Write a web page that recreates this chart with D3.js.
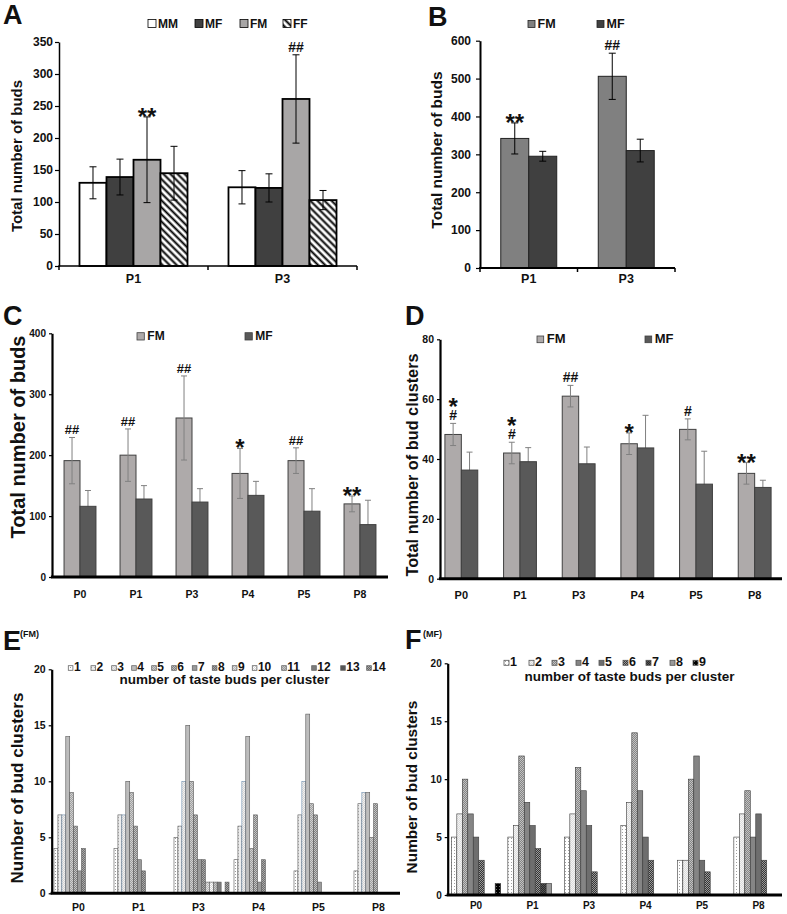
<!DOCTYPE html>
<html>
<head>
<meta charset="utf-8">
<script src="https://cdn.jsdelivr.net/npm/d3@7"></script>
<style>
  body { margin: 0; background: #fff; }
  text { font-family: Arial, "Liberation Sans", sans-serif; font-weight: bold; fill: #111; }
</style>
</head>
<body>
<script>
// ---- data ----
// A
var catsA = ['P1', 'P3'];
var seriesA = ['MM', 'MF', 'FM', 'FF'];
var aMM = [130, 123], aMMErr = [25, 26];
var aMF = [139, 122], aMFErr = [28, 22];
var aFM = [166, 261], aFMErr = [67, 69];
var aFF = [145, 103], aFFErr = [42, 15];
var aStar = ['**', ''], aHash = ['', '##'];
// B
var catsB = ['P1', 'P3'];
var seriesB = ['FM', 'MF'];
var bFM = [342, 506], bFMErr = [41, 61];
var bMF = [295, 310], bMFErr = [13, 30];
var bStar = ['**', ''], bHash = ['', '##'];
// C
var catsC = ['P0', 'P1', 'P3', 'P4', 'P5', 'P8'];
var cFM = [191, 200, 261, 170, 191, 120], cFMErr = [38, 43, 69, 41, 21, 13];
var cMF = [116, 128, 123, 134, 108, 86], cMFErr = [26, 22, 22, 23, 37, 40];
var cStar = ['', '', '', '*', '', '**'], cHash = ['##', '##', '##', '', '##', ''];
// D
var dFM = [48.2, 42, 61, 45.1, 49.9, 35.2], dFMErr = [3.7, 3.6, 3.6, 3.6, 3.5, 3.6];
var dMF = [36.3, 39.1, 38.4, 43.7, 31.6, 30.5], dMFErr = [6, 4.7, 5.6, 10.9, 11, 2.4];
var dStar = ['*', '*', '', '*', '', '**'], dHash = ['#', '#', '##', '', '#', ''];
// E (FM) counts per category, taste buds per cluster 1..14
var sizesE = ['1', '2', '3', '4', '5', '6', '7', '8', '9', '10', '11', '12', '13', '14'];
var eP0 = [4, 7, 7, 14, 9, 6, 2, 4, 0, 0, 0, 0, 0, 0];
var eP1 = [4, 7, 7, 10, 9, 6, 3, 2, 0, 0, 0, 0, 0, 0];
var eP3 = [5, 6, 10, 15, 10, 7, 3, 3, 1, 1, 1, 1, 0, 1];
var eP4 = [3, 6, 10, 14, 4, 7, 1, 3, 0, 0, 0, 0, 0, 0];
var eP5 = [2, 7, 10, 16, 8, 7, 1, 0, 0, 0, 0, 0, 0, 0];
var eP8 = [2, 8, 9, 9, 5, 8, 0, 0, 0, 0, 0, 0, 0, 0];
// F (MF) counts per category, taste buds per cluster 1..9
var sizesF = ['1', '2', '3', '4', '5', '6', '7', '8', '9'];
var fP0 = [5, 7, 10, 7, 5, 3, 0, 0, 1];
var fP1 = [5, 6, 12, 8, 6, 4, 1, 1, 0];
var fP3 = [5, 7, 11, 9, 6, 2, 0, 0, 0];
var fP4 = [6, 8, 14, 9, 5, 3, 0, 0, 0];
var fP5 = [3, 3, 10, 12, 3, 2, 0, 0, 0];
var fP8 = [5, 7, 9, 5, 7, 3, 0, 0, 0];

var svg = d3.select('body').append('svg').attr('width', 787).attr('height', 914);
var defs = svg.append('defs');

function pat(id, bg, fg, kind) {
  var s = kind === 'dots' ? 3 : 2;
  var p = defs.append('pattern').attr('id', id)
    .attr('patternUnits', 'userSpaceOnUse').attr('width', s).attr('height', s);
  p.append('rect').attr('width', s).attr('height', s).attr('fill', bg);
  if (kind === 'dots') {
    p.append('rect').attr('x', 1).attr('y', 1).attr('width', 1).attr('height', 1).attr('fill', fg);
  } else {
    p.append('rect').attr('width', 1).attr('height', 1).attr('fill', fg);
    p.append('rect').attr('x', 1).attr('y', 1).attr('width', 1).attr('height', 1).attr('fill', fg);
  }
  return 'url(#' + id + ')';
}

// diagonal hatch for FF
var hp = defs.append('pattern').attr('id', 'hatch').attr('patternUnits', 'userSpaceOnUse')
  .attr('width', 5).attr('height', 5).attr('patternTransform', 'rotate(-45)');
hp.append('rect').attr('width', 5).attr('height', 5).attr('fill', '#fff');
hp.append('line').attr('x1', 2.5).attr('x2', 2.5).attr('y1', 0).attr('y2', 5)
  .attr('stroke', '#000').attr('stroke-width', 2);

function barPanel(o) {
  var g = svg.append('g');
  var x0 = d3.scaleBand().domain(o.cats).range(o.xr).paddingInner(o.pad).paddingOuter(o.pad / 2);
  var x1 = d3.scaleBand().domain(d3.range(o.vals.length)).range([0, x0.bandwidth()]);
  var y = d3.scaleLinear().domain([0, o.ymax]).range(o.yr);

  function errBars(si) {
    var vals = o.vals[si], errs = o.errs[si];
    var eg = g.append('g').attr('stroke', o.errColor).attr('stroke-width', 1);
    errs.forEach(function(e, i) {
      var cx = x0(o.cats[i]) + x1(si) + x1.bandwidth() / 2;
      eg.append('line').attr('x1', cx).attr('x2', cx)
        .attr('y1', y(vals[i] - e)).attr('y2', y(vals[i] + e));
      [vals[i] - e, vals[i] + e].forEach(function(v) {
        eg.append('line').attr('x1', cx - o.cap).attr('x2', cx + o.cap)
          .attr('y1', y(v)).attr('y2', y(v));
      });
    });
  }

  if (o.errs) o.vals.forEach(function(v, si) { if (o.errBehind && o.errBehind[si]) errBars(si); });

  o.vals.forEach(function(vals, si) {
    var rows = vals.map(function(v, i) { return { v: v, c: o.cats[i] }; })
      .filter(function(d) { return d.v > 0; });
    g.append('g').selectAll('rect').data(rows).enter().append('rect')
      .attr('x', function(d) { return x0(d.c) + x1(si); })
      .attr('y', function(d) { return y(d.v); })
      .attr('width', x1.bandwidth())
      .attr('height', function(d) { return y(0) - y(d.v); })
      .attr('fill', o.fills[si])
      .attr('stroke', o.strokes ? o.strokes[si] : o.stroke)
      .attr('stroke-width', o.sw);
  });

  if (o.errs) o.vals.forEach(function(v, si) { if (!(o.errBehind && o.errBehind[si])) errBars(si); });

  // significance marks on one series
  if (o.star) {
    var si = o.annSeries, vals = o.vals[si], errs = o.errs[si];
    o.cats.forEach(function(c, i) {
      var cx = x0(c) + x1(si) + x1.bandwidth() / 2;
      var top = y(vals[i] + errs[i]);
      var hashBase = top - 3;
      if (o.star[i] && o.hash[i]) {
        // stacked: star over hash, one text block
        var starBase = hashBase - o.hashFs * 0.36 - 14 + 0.58 * 24;
        var t = g.append('text').attr('x', cx).attr('y', starBase).attr('text-anchor', 'middle');
        t.append('tspan').style('font-size', '24px').text(o.star[i]);
        t.append('tspan').attr('x', cx).attr('dy', hashBase - starBase)
          .style('font-size', o.hashFs + 'px').text(o.hash[i]);
      } else if (o.hash[i]) {
        g.append('text').attr('x', cx).attr('y', hashBase).attr('text-anchor', 'middle')
          .style('font-size', o.hashFs + 'px').text(o.hash[i]);
      } else if (o.star[i]) {
        g.append('text').attr('x', cx).attr('y', top - 6 + 0.58 * 24).attr('text-anchor', 'middle')
          .style('font-size', '24px').text(o.star[i]);
      }
    });
  }

  // y axis
  var ya = g.append('g').attr('transform', 'translate(' + o.axisX + ',0)')
    .call(d3.axisLeft(y).tickValues(o.ticks).tickSize(o.tick).tickSizeOuter(0).tickPadding(o.tickPad));
  ya.select('.domain').attr('stroke', '#000').attr('stroke-width', o.yw);
  ya.selectAll('.tick line').attr('stroke', '#000').attr('stroke-width', 1.2);
  ya.selectAll('.tick text').style('font-size', o.tickFs + 'px').style('font-family', 'Arial, "Liberation Sans", sans-serif')
    .style('font-weight', 'bold').attr('fill', '#1a1a1a');

  // x axis
  g.append('line').attr('x1', o.axisX - o.yw / 2).attr('x2', o.xEnd).attr('y1', y(0)).attr('y2', y(0))
    .attr('stroke', '#000').attr('stroke-width', o.xw);
  if (o.xTicks) {
    d3.range(o.cats.length + 1).forEach(function(k) {
      var xx = o.xr[0] + k * x0.step();
      g.append('line').attr('x1', xx).attr('x2', xx).attr('y1', y(0)).attr('y2', y(0) + 4)
        .attr('stroke', '#000').attr('stroke-width', 1.5);
    });
  }
  g.selectAll('.cat').data(o.cats).enter().append('text')
    .attr('x', function(c) { return x0(c) + x0.bandwidth() / 2 + (o.catShift || 0); })
    .attr('y', o.catY).attr('text-anchor', 'middle')
    .style('font-size', o.catFs + 'px').text(function(c) { return c; });

  // y label
  g.append('text').attr('transform', 'translate(' + o.ylab[0] + ',' + o.ylab[1] + ') rotate(-90)')
    .attr('text-anchor', 'middle').attr('dy', '0.35em')
    .style('font-size', o.ylabFs + 'px').text(o.ylabel);

  // legend
  var lg = o.legend;
  lg.labels.forEach(function(l, i) {
    var x = lg.xs[i];
    g.append('rect').attr('x', x).attr('y', lg.y - lg.size).attr('width', lg.size).attr('height', lg.size)
      .attr('fill', o.fills[i]).attr('stroke', lg.stroke).attr('stroke-width', 0.8);
    g.append('text').attr('x', x + lg.size + lg.gap).attr('y', lg.y + lg.dy)
      .style('font-size', lg.fs + 'px').text(l);
  });
  if (lg.title) {
    g.append('text').attr('x', lg.title[1]).attr('y', lg.title[2]).attr('text-anchor', 'middle')
      .style('font-size', lg.titleFs + 'px').text(lg.title[0]);
  }

  // panel letter
  g.append('text').attr('x', o.letter[1]).attr('y', o.letter[2])
    .style('font-size', '27px').text(o.letter[0]);
  if (o.sub) {
    g.append('text').attr('x', o.sub[1]).attr('y', o.sub[2]).style('font-size', '9px').text(o.sub[0]);
  }
}

// Panel A
barPanel({
  cats: catsA, vals: [aMM, aMF, aFM, aFF], errs: [aMMErr, aMFErr, aFMErr, aFFErr],
  xr: [59, 357], pad: 0.275, ymax: 350, yr: [266, 42], ticks: d3.range(0, 351, 50),
  fills: ['#fff', '#404040', '#a8a6a6', 'url(#hatch)'], stroke: '#000', sw: 1.8,
  errColor: '#000', cap: 3.5, annSeries: 2, star: aStar, hash: aHash, hashFs: 14,
  axisX: 59, xEnd: 357, yw: 1.5, xw: 1.5, xTicks: true, tick: 4, tickPad: 2, tickFs: 12,
  catY: 283, catFs: 12.5, ylab: [17, 156], ylabFs: 15, ylabel: 'Total number of buds',
  legend: { labels: seriesA, xs: [148, 195, 240, 283], y: 27.5, size: 8, gap: 2, dy: 0, fs: 12, stroke: '#000' },
  letter: ['A', 3, 24]
});

// Panel B
barPanel({
  cats: catsB, vals: [bFM, bMF], errs: [bFMErr, bMFErr],
  xr: [480, 675], pad: 0.426, ymax: 600, yr: [268, 40.7], ticks: d3.range(0, 601, 100),
  fills: ['#808080', '#404040'], stroke: '#222', sw: 1,
  errColor: '#000', cap: 3.5, annSeries: 0, star: bStar, hash: bHash, hashFs: 14,
  axisX: 480, xEnd: 675, yw: 2, xw: 2, xTicks: true, tick: 4, tickPad: 5, tickFs: 12,
  catY: 283, catFs: 12.5, ylab: [437, 150], ylabFs: 15.5, ylabel: 'Total number of buds',
  legend: { labels: seriesB, xs: [528, 597], y: 27.5, size: 7, gap: 2.5, dy: 0, fs: 12.5, stroke: '#222' },
  letter: ['B', 428, 26]
});

// Panel C
barPanel({
  cats: catsC, vals: [cFM, cMF], errs: [cFMErr, cMFErr], errBehind: [false, true],
  xr: [52, 388], pad: 0.43, ymax: 400, yr: [577, 333.3], ticks: d3.range(0, 401, 100),
  fills: ['#aeaaaa', '#595959'], stroke: '#404040', sw: 1,
  errColor: '#808080', cap: 3, annSeries: 0, star: cStar, hash: cHash, hashFs: 13,
  axisX: 52, xEnd: 388, yw: 2.2, xw: 3, xTicks: false, tick: 3, tickPad: 3, tickFs: 10,
  catY: 597.5, catFs: 10.5, ylab: [18, 437], ylabFs: 20, ylabel: 'Total number of buds',
  legend: { labels: ['FM', 'MF'], xs: [137, 245], y: 340, size: 7.3, gap: 3, dy: 0, fs: 12, stroke: '#404040' },
  letter: ['C', 3, 325]
});

// Panel D
barPanel({
  cats: catsC, vals: [dFM, dMF], errs: [dFMErr, dMFErr], errBehind: [false, true],
  xr: [432, 784], pad: 0.44, ymax: 80, yr: [578.7, 339.3], ticks: d3.range(0, 81, 20),
  fills: ['#aeaaaa', '#595959'], stroke: '#404040', sw: 1,
  errColor: '#808080', cap: 3, annSeries: 0, star: dStar, hash: dHash, hashFs: 14,
  axisX: 440, xEnd: 782, yw: 2.2, xw: 3, xTicks: false, tick: 3, tickPad: 3, tickFs: 10.5,
  catY: 599, catFs: 11, ylab: [412, 465], ylabFs: 16.3, ylabel: 'Total number of bud clusters',
  legend: { labels: ['FM', 'MF'], xs: [537, 645], y: 342.7, size: 6.7, gap: 3, dy: 0, fs: 13, stroke: '#404040' },
  letter: ['D', 405, 325]
});

// Panel E patterns
var eFills = [
  pat('e1', '#ffffff', '#9a9a9a', 'dots'),
  pat('e2', '#eeeeee', '#b0b0b0', 'dots'),
  pat('e3', '#d4d4d4', '#f0f0f0', 'check'),
  '#bdbdbd',
  pat('e5', '#a0a0a0', '#d0d0d0', 'check'),
  pat('e6', '#808080', '#c4c4c4', 'check'),
  '#9a9a9a',
  pat('e8', '#6e6e6e', '#a8a8a8', 'check'),
  pat('e9', '#b8b8b8', '#e2e2e2', 'check'),
  pat('e10', '#d6d6d6', '#ffffff', 'check'),
  pat('e11', '#9c9c9c', '#cacaca', 'check'),
  '#7c7c7c',
  '#555555',
  pat('e14', '#666666', '#a8a8a8', 'check')
];
var eStrokes = sizesE.map(function(s, i) { return i === 2 ? '#6f8fb0' : '#5a5a5a'; });
var eSeries = sizesE.map(function(s, k) { return [eP0[k], eP1[k], eP3[k], eP4[k], eP5[k], eP8[k]]; });
barPanel({
  cats: catsC, vals: eSeries,
  xr: [51.5, 411.5], pad: 0.083, ymax: 20, yr: [893.3, 669.3], ticks: d3.range(0, 21, 5),
  fills: eFills, strokes: eStrokes, sw: 0.6,
  axisX: 51.7, xEnd: 400, yw: 2.2, xw: 3, xTicks: false, tick: 3, tickPad: 3, tickFs: 10.5,
  catY: 910.5, catFs: 10.5, catShift: -3, ylab: [17, 788], ylabFs: 17, ylabel: 'Number of bud clusters',
  legend: { labels: sizesE,
            xs: [68.3, 91, 111.7, 131.7, 151.7, 171.7, 192.3, 212.3, 232.3, 252.3, 281.7, 311.7, 340.7, 366.7],
            y: 670.3, size: 4.6, gap: 1, dy: 0.3, fs: 12, stroke: '#666',
            title: ['number of taste buds per cluster', 224.5, 684], titleFs: 13.5 },
  letter: ['E', 3, 650], sub: ['(FM)', 20, 637]
});

// Panel F patterns
var fFills = [
  pat('f1', '#ffffff', '#a0a0a0', 'dots'),
  pat('f2', '#dcdcdc', '#f4f4f4', 'check'),
  pat('f3', '#858585', '#c2c2c2', 'check'),
  '#858585',
  '#6e6e6e',
  pat('f6', '#353535', '#9a9a9a', 'check'),
  pat('f7', '#2a2a2a', '#555555', 'check'),
  '#9a9a9a',
  pat('f9', '#000000', '#6a6a6a', 'dots')
];
var fSeries = sizesF.map(function(s, k) { return [fP0[k], fP1[k], fP3[k], fP4[k], fP5[k], fP8[k]]; });
barPanel({
  cats: catsC, vals: fSeries,
  xr: [447.75, 786.75], pad: 0.127, ymax: 20, yr: [895, 663.3], ticks: d3.range(0, 21, 5),
  fills: fFills, stroke: '#3a3a3a', sw: 0.6,
  axisX: 447.7, xEnd: 782, yw: 2.2, xw: 3, xTicks: false, tick: 3, tickPad: 3, tickFs: 10,
  catY: 909, catFs: 10, ylab: [412, 787], ylabFs: 15.4, ylabel: 'Number of bud clusters',
  legend: { labels: sizesF, xs: [504, 529, 552, 576, 599, 623, 646, 670, 693],
            y: 665.3, size: 5, gap: 1, dy: 0.3, fs: 12.5, stroke: '#555',
            title: ['number of taste buds per cluster', 629.5, 681], titleFs: 13.5 },
  letter: ['F', 405, 649], sub: ['(MF)', 423, 637]
});
</script>
</body>
</html>
